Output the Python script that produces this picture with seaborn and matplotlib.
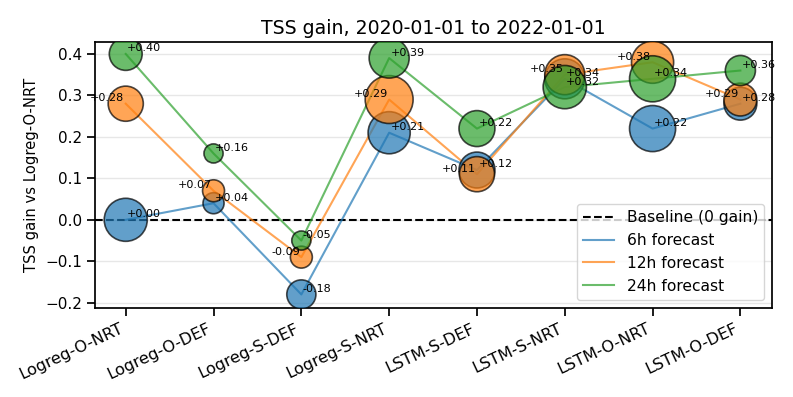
import matplotlib
matplotlib.use("Agg")
import matplotlib.pyplot as plt
import seaborn as sns
import numpy as np
import pandas as pd

categories = ["Logreg-O-NRT", "Logreg-O-DEF", "Logreg-S-DEF", "Logreg-S-NRT",
              "LSTM-S-DEF", "LSTM-S-NRT", "LSTM-O-NRT", "LSTM-O-DEF"]
gain_6h = [0.00, 0.04, -0.18, 0.21, 0.12, 0.34, 0.22, 0.28]
gain_12h = [0.28, 0.07, -0.09, 0.29, 0.11, 0.35, 0.38, 0.29]
gain_24h = [0.40, 0.16, -0.05, 0.39, 0.22, 0.32, 0.34, 0.36]
# bubble sizes (points^2)
size_6h = [960, 230, 440, 920, 670, 830, 1100, 560]
size_12h = [640, 250, 250, 1190, 640, 830, 920, 560]
size_24h = [560, 190, 190, 830, 670, 970, 1100, 470]
series_names = ["6h forecast", "12h forecast", "24h forecast"]
colors = ["#1f77b4", "#ff7f0e", "#2ca02c"]

series = [(gain_6h, size_6h), (gain_12h, size_12h), (gain_24h, size_24h)]

sns.set_context("notebook")

fig = plt.figure(figsize=(7.93, 3.97), dpi=100)
ax = fig.add_axes([0.1198, 0.2249, 0.8537, 0.6685])

ax.axhline(0, color="black", linestyle="--", linewidth=1.5, label="Baseline (0 gain)", zorder=1)

xpos = np.arange(len(categories))
for i, ((vals, sizes), name, col) in enumerate(zip(series, series_names, colors)):
    df = pd.DataFrame({"x": xpos, "y": vals, "s": sizes})
    sns.lineplot(data=df, x="x", y="y", ax=ax, color=col, alpha=0.7,
                 linewidth=1.5, label=name, zorder=2)
    sns.scatterplot(data=df, x="x", y="y", ax=ax, color=col, s=df["s"].values,
                    alpha=0.7, edgecolor="black", linewidth=1.2, legend=False, zorder=3)
    for xv, yv in zip(xpos, vals):
        if i == 1:
            ax.annotate(f"{yv:+.2f}", (xv, yv), xytext=(-1, 4), textcoords="offset points",
                        ha="right", va="center", fontsize=8, zorder=4)
        else:
            ax.annotate(f"{yv:+.2f}", (xv, yv), xytext=(1, 4), textcoords="offset points",
                        ha="left", va="center", fontsize=8, zorder=4)

ax.set_xlim(-0.35, 7.36)
ax.set_ylim(-0.212, 0.428)
ax.set_yticks([-0.2, -0.1, 0.0, 0.1, 0.2, 0.3, 0.4])
ax.set_xticks(xpos)
ax.set_xticklabels(categories, rotation=25, ha="right", fontsize=11.6)
ax.tick_params(axis="y", labelsize=11)
ax.grid(axis="y", alpha=0.3)
ax.set_axisbelow(True)
ax.set_xlabel("")
ax.set_ylabel("TSS gain vs Logreg-O-NRT", fontsize=10.6)
ax.set_title("TSS gain, 2020-01-01 to 2022-01-01", fontsize=13.6)
ax.legend(loc="lower right", fontsize=11.2)

fig.savefig("out.png", dpi=100)
